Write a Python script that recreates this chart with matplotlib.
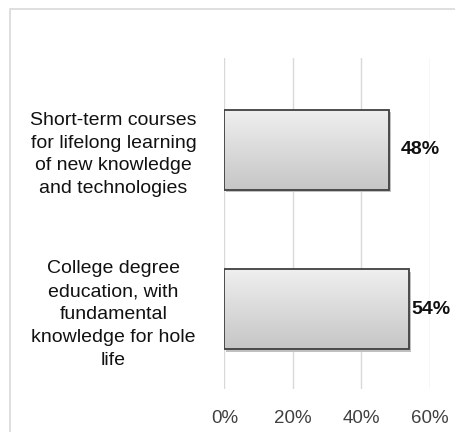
import numpy as np
import matplotlib
matplotlib.use("Agg")
import matplotlib.pyplot as plt
from matplotlib.patches import Rectangle
from matplotlib.colors import LinearSegmentedColormap

plt.rcParams.update({"font.family": ["Liberation Sans", "DejaVu Sans"], "font.size": 14})

categories = ["College degree\neducation, with\nfundamental\nknowledge for hole\nlife",
              "Short-term courses\nfor lifelong learning\nof new knowledge\nand technologies"]
values = [54, 48]
xticks = [0, 20, 40, 60]

W, H = 456, 432
fig = plt.figure(figsize=(W / 100, H / 100), dpi=100)
# outer chart frame
fig.patches.append(Rectangle((10 / W, -0.1), 1.0, 1 - 9 / H + 0.1, transform=fig.transFigure,
                             fill=False, edgecolor="#d9d9d9", linewidth=1.2))
ax = fig.add_axes([224.5 / W, 43 / H, 205.5 / W, 331 / H])

ypos = np.arange(len(categories))
h = 0.5
grad = np.linspace(0, 1, 100).reshape(-1, 1)
cmap = LinearSegmentedColormap.from_list("g", ["#c6c6c6", "#efefef"])
for y, v in zip(ypos, values):
    # drop shadow
    ax.add_patch(Rectangle((0.5, y - h / 2 - 0.018), v, h, facecolor="#c0c0c0", edgecolor="none", zorder=2))
    ax.imshow(grad, extent=[0, v, y - h / 2, y + h / 2], origin="lower", cmap=cmap,
              aspect="auto", zorder=3)
    ax.add_patch(Rectangle((0, y - h / 2), v, h, facecolor="none", edgecolor="#404040",
                           linewidth=1.3, zorder=4))
    # label pushed back inside the chart when it would run off the edge
    ax.text(min(v + 3.5, 54.6), y, f"{v}%", va="center", ha="left", fontsize=14,
            fontweight="bold", color="#111111", clip_on=False)

ax.set_xlim(0, 60)
ax.set_ylim(-0.497, 1.572)
ax.set_xticks(xticks)
ax.set_xticklabels([f"{t}%" for t in xticks], color="#404040", fontsize=13.5)
ax.set_yticks(ypos)
ax.set_yticklabels(categories, ha="center", color="#111111", linespacing=1.45)
ax.tick_params(axis="y", length=0, pad=80)
ax.tick_params(axis="x", length=0, pad=15)
ax.grid(axis="x", color="#d9d9d9", linewidth=1)
ax.set_axisbelow(True)
for s in ax.spines.values():
    s.set_visible(False)

fig.savefig("out.png", dpi=100)
